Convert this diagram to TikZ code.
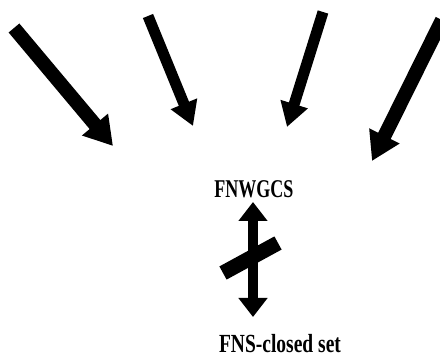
\documentclass[tikz,border=0pt]{standalone}
\usepackage{fontspec}
\setmainfont{Liberation Serif}
\usetikzlibrary{arrows.meta}
\begin{document}
\begin{tikzpicture}[x=1pt,y=-1pt,
  bigarrow/.style={line width=14pt,-{Triangle[width=32pt,length=28pt]}},
  midarrow/.style={line width=11pt,-{Triangle[width=27pt,length=24pt]}},
  dblarrow/.style={line width=10pt,{Triangle[width=28pt,length=19pt]}-{Triangle[width=28pt,length=19pt]}},
  slashbar/.style={line width=15pt},
  lbl/.style={font=\bfseries, inner sep=0pt}]
\useasboundingbox (0,0) rectangle (440,358);
% free ends of the four incoming arrows
\coordinate (t1) at (14,28);   \coordinate (h1) at (113,146);
\coordinate (t2) at (148,16);  \coordinate (h2) at (193,126);
\coordinate (t3) at (323,12);  \coordinate (h3) at (287,127);
\coordinate (t4) at (442,20);  \coordinate (h4) at (372,161);
\begin{scope}
\clip (0,0) rectangle (440,358);
\draw[bigarrow] (t1) -- (h1);
\draw[midarrow] (t2) -- (h2);
\draw[midarrow] (t3) -- (h3);
\draw[bigarrow] (t4) -- (h4);
\end{scope}
% labels
\node[lbl] (top) at (254,189) {\scalebox{1}[1.42]{\fontsize{18}{18}\selectfont FNWGCS}};
\node[lbl] (bot) at (280,344) {\scalebox{1}[1.34]{\fontsize{19.5}{19.5}\selectfont FNS-closed set}};
% double arrow with slash
\coordinate (da) at (253,202);
\coordinate (db) at (253,317);
\draw[dblarrow] (da) -- (db);
\coordinate (s1) at (223,273);
\coordinate (s2) at (278,243);
\draw[slashbar] (s1) -- (s2);
\end{tikzpicture}
\end{document}
